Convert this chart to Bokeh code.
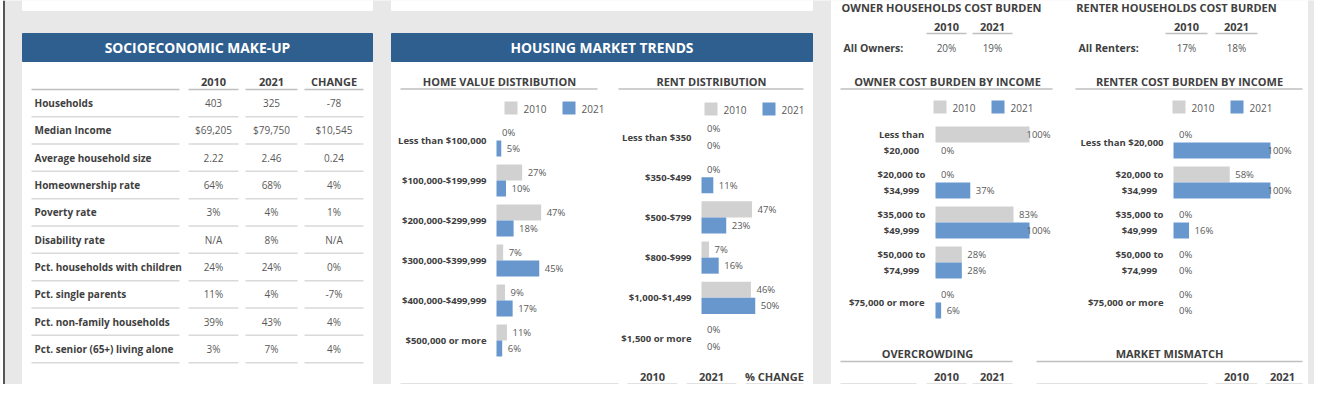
import numpy as np
from bokeh.plotting import figure
from bokeh.models import Range1d, ColumnDataSource
from bokeh.transform import dodge
from bokeh.core.properties import value
from bokeh.embed import file_html
from bokeh.resources import INLINE

# ---------------- data ----------------
socio_rows = ["Households", "Median Income", "Average household size", "Homeownership rate",
              "Poverty rate", "Disability rate", "Pct. households with children",
              "Pct. single parents", "Pct. non-family households", "Pct. senior (65+) living alone"]
socio_2010 = ["403", "$69,205", "2.22", "64%", "3%", "N/A", "24%", "11%", "39%", "3%"]
socio_2021 = ["325", "$79,750", "2.46", "68%", "4%", "8%", "24%", "4%", "43%", "7%"]
socio_change = ["-78", "$10,545", "0.24", "4%", "1%", "N/A", "0%", "-7%", "4%", "4%"]

home_cats = ["Less than $100,000", "$100,000-$199,999", "$200,000-$299,999",
             "$300,000-$399,999", "$400,000-$499,999", "$500,000 or more"]
home_2010 = [0, 27, 47, 7, 9, 11]
home_2021 = [5, 10, 18, 45, 17, 6]

rent_cats = ["Less than $350", "$350-$499", "$500-$799", "$800-$999", "$1,000-$1,499", "$1,500 or more"]
rent_2010 = [0, 0, 47, 7, 46, 0]
rent_2021 = [0, 11, 23, 16, 50, 0]

owner_cats = ["Less than\n$20,000", "$20,000 to\n$34,999", "$35,000 to\n$49,999",
              "$50,000 to\n$74,999", "$75,000 or more"]
owner_2010 = [100, 0, 83, 28, 0]
owner_2021 = [0, 37, 100, 28, 6]

renter_cats = ["Less than $20,000", "$20,000 to\n$34,999", "$35,000 to\n$49,999",
               "$50,000 to\n$74,999", "$75,000 or more"]
renter_2010 = [0, 58, 0, 0, 0]
renter_2021 = [100, 100, 16, 0, 0]

years = ["2010", "2021"]
owner_all = ["20%", "19%"]
renter_all = ["17%", "18%"]

# ---------------- style ----------------
FONT = "Open Sans"
BG = "#e8e8e8"
WHITE = "#ffffff"
BLUE_HDR = "#2f5f8f"
GRAY_BAR = "#d1d1d1"
BLUE_BAR = "#6897cd"
DARK = "#404040"
MID = "#595959"
LINE_HDR = "#bfbfbf"
LINE_ROW = "#d9d9d9"

W, H = 1314, 384
X0, X1, Y0, Y1 = 0, W, 0, H

p = figure(width=W, height=H, x_range=Range1d(X0, X1), y_range=Range1d(Y1, Y0),
           output_backend="svg", toolbar_location=None, x_axis_type=None, y_axis_type=None,
           min_border=0, background_fill_color=BG, border_fill_color=BG,
           outline_line_color=None)


def txt(x, y, t, size, bold=False, color=DARK, align="left", xr="default", yr="default", lh=1.2):
    xs = x if isinstance(x, (list, tuple)) else [x]
    ys = y if isinstance(y, (list, tuple)) else [y]
    ts = t if isinstance(t, (list, tuple)) else [t]
    n = max(len(xs), len(ys), len(ts))
    xs = xs * n if len(xs) == 1 else xs
    ys = ys * n if len(ys) == 1 else ys
    ts = ts * n if len(ts) == 1 else ts
    p.text(x=xs, y=ys, text=ts, text_font=value(FONT), text_font_size=size,
           text_font_style="bold" if bold else "normal", text_color=color,
           text_align=align, text_baseline="middle", text_line_height=lh,
           x_range_name=xr, y_range_name=yr)


def hline(x0, x1, y, color=LINE_HDR, w=1.5):
    p.segment(x0=[x0], x1=[x1], y0=[y], y1=[y], line_color=color, line_width=w)


# ---------------- panels ----------------
p.quad(left=[0], right=[3], top=[0], bottom=[410], color=WHITE)
p.quad(left=[22, 391], right=[372, 812], top=[0, 0], bottom=[10, 10], color=WHITE)
p.quad(left=[22], right=[372], top=[33], bottom=[389], color=WHITE)
p.quad(left=[391], right=[812], top=[33], bottom=[410], color=WHITE)
p.quad(left=[831], right=[1307], top=[0], bottom=[410], color=WHITE)
p.quad(left=[22, 391], right=[372, 812], top=[33, 33], bottom=[61, 61], color=BLUE_HDR)
p.segment(x0=[3.5, 1326], x1=[3.5, 1326], y0=[0, 0], y1=[410, 410], line_color="#555555", line_width=2)

txt(197, 47, "SOCIOECONOMIC MAKE-UP", "13.8px", True, WHITE, "center")
txt(601.5, 47, "HOUSING MARKET TRENDS", "13.8px", True, WHITE, "center")

# ---------------- socioeconomic table ----------------
p.extra_y_ranges["soc_y"] = Range1d((Y1 - 102.5) / 27.33, (Y0 - 102.5) / 27.33)
cols = [(31, 179), (188, 238), (245, 297), (304, 363)]
col_cx = [(a + b) / 2 for a, b in cols[1:]]
for j, h in enumerate(["2010", "2021", "CHANGE"]):
    txt(col_cx[j], 81, h, "11px", True, DARK, "center")
for a, b in cols:
    hline(a, b, 89, LINE_HDR, 1.5)
rows = list(range(len(socio_rows)))
txt([34] * len(rows), rows, socio_rows, "10px", True, DARK, "left", yr="soc_y")
for j, vals in enumerate([socio_2010, socio_2021, socio_change]):
    txt([col_cx[j]] * len(rows), rows, vals, "10px", False, MID, "center", yr="soc_y")
sx0, sx1, sy = [], [], []
for r in rows:
    for a, b in cols:
        sx0.append(a); sx1.append(b); sy.append(r + 0.5)
p.segment(x0=sx0, x1=sx1, y0=sy, y1=sy, line_color=LINE_ROW, line_width=1.5, y_range_name="soc_y")


# ---------------- bar charts ----------------
def bar_chart(key, cats, v10, v21, base, s, c0, step, lab_right, lab_center,
              title, title_cx, ul, legend_x, legend_y):
    xr, yr = key + "_x", key + "_y"
    p.extra_x_ranges[xr] = Range1d((X0 - base) / s, (X1 - base) / s)
    p.extra_y_ranges[yr] = Range1d((Y1 - c0) / step, (Y0 - c0) / step)
    idx = list(range(len(cats)))
    cap = 100 - 3 / s
    src = ColumnDataSource(dict(
        idx=idx, v10=v10, v21=v21,
        l10=[min(v + 5.5 / s, cap) for v in v10],
        l21=[min(v + 5.5 / s, cap) for v in v21],
        t10=[f"{v}%" for v in v10], t21=[f"{v}%" for v in v21]))
    p.hbar(y=dodge("idx", -0.2), left=0, right="v10", height=0.4, source=src,
           fill_color=GRAY_BAR, line_color=None, x_range_name=xr, y_range_name=yr)
    p.hbar(y=dodge("idx", 0.2), left=0, right="v21", height=0.4, source=src,
           fill_color=BLUE_BAR, line_color=None, x_range_name=xr, y_range_name=yr)
    for col, tcol, off in (("l10", "t10", -0.2), ("l21", "t21", 0.2)):
        p.text(x=col, y=dodge("idx", off), text=tcol, source=src, text_font=value(FONT),
               text_font_size="9.5px", text_color=MID, text_baseline="middle",
               x_range_name=xr, y_range_name=yr)
    single = [i for i, c in enumerate(cats) if "\n" not in c]
    multi = [i for i, c in enumerate(cats) if "\n" in c]
    if single:
        txt([lab_right] * len(single), single, [cats[i] for i in single], "9.5px", True, DARK,
            "right", yr=yr)
    if multi:
        txt([lab_center] * len(multi), multi, [cats[i] for i in multi], "9.5px", True, DARK,
            "center", yr=yr, lh=1.3)
    # title + underline
    txt(title_cx, 81, title, "11px", True, DARK, "center")
    hline(ul[0], ul[1], 88.5, LINE_HDR, 1.5)
    # legend
    lx = legend_x
    p.quad(left=[lx, lx + 58], right=[lx + 13, lx + 71], top=[legend_y - 6.5] * 2,
           bottom=[legend_y + 6.5] * 2, fill_color=[GRAY_BAR, BLUE_BAR], line_color=None)
    txt([lx + 19, lx + 77], [legend_y + 0.5] * 2, years, "10px", False, MID, "left")


bar_chart("hv", home_cats, home_2010, home_2021, 496, 0.95, 140, 40, 486, 486,
          "HOME VALUE DISTRIBUTION", 499, (400, 597), 504, 107.5)
bar_chart("rd", rent_cats, rent_2010, rent_2021, 701, 1.075, 136.5, 40.2, 691, 691,
          "RENT DISTRIBUTION", 711, (618, 803), 704, 108.5)
bar_chart("ob", owner_cats, owner_2010, owner_2021, 935, 0.94, 142, 40, 924, 901,
          "OWNER COST BURDEN BY INCOME", 947, (840, 1052), 933, 106.5)
bar_chart("rb", renter_cats, renter_2010, renter_2021, 1173, 0.97, 142, 40, 1163, 1139,
          "RENTER COST BURDEN BY INCOME", 1189, (1075, 1302), 1172, 106.5)

# ---------------- cost burden summary tables ----------------
txt(941, 7, "OWNER HOUSEHOLDS COST BURDEN", "11px", True, DARK, "center")
txt(1176, 7, "RENTER HOUSEHOLDS COST BURDEN", "11px", True, DARK, "center")
txt([946, 992], [26, 26], years, "11px", True, DARK, "center")
txt([1186, 1236], [26, 26], years, "11px", True, DARK, "center")
for a, b in [(926, 966), (972, 1012), (1165, 1207), (1215, 1257)]:
    hline(a, b, 33, LINE_HDR, 1.5)
txt(843, 47, "All Owners:", "10.5px", True, DARK, "left")
txt(1078, 47, "All Renters:", "10.5px", True, DARK, "left")
txt([946, 992], [47, 47], owner_all, "10px", False, MID, "center")
txt([1186, 1236], [47, 47], renter_all, "10px", False, MID, "center")

# ---------------- lower tables (headers) ----------------
HY = 376
txt([652, 711, 774], [HY] * 3, ["2010", "2021", "% CHANGE"], "11px", True, DARK, "center")
for a, b in [(400, 618), (627, 677), (686, 736), (745, 803)]:
    hline(a, b, 383.5, LINE_ROW, 1.5)

txt(927, 353, "OVERCROWDING", "11px", True, DARK, "center")
hline(840, 1012, 361, LINE_HDR, 1.5)
txt([946, 992], [HY, HY], years, "11px", True, DARK, "center")
for a, b in [(840, 916), (926, 966), (972, 1012)]:
    hline(a, b, 383.5, LINE_ROW, 1.5)

txt(1169, 353, "MARKET MISMATCH", "11px", True, DARK, "center")
hline(1036, 1302, 361, LINE_HDR, 1.5)
txt([1236, 1282], [HY, HY], years, "11px", True, DARK, "center")
for a, b in [(1036, 1207), (1215, 1257), (1265, 1302)]:
    hline(a, b, 383.5, LINE_ROW, 1.5)

open("out.html", "w").write(file_html(p, INLINE))
